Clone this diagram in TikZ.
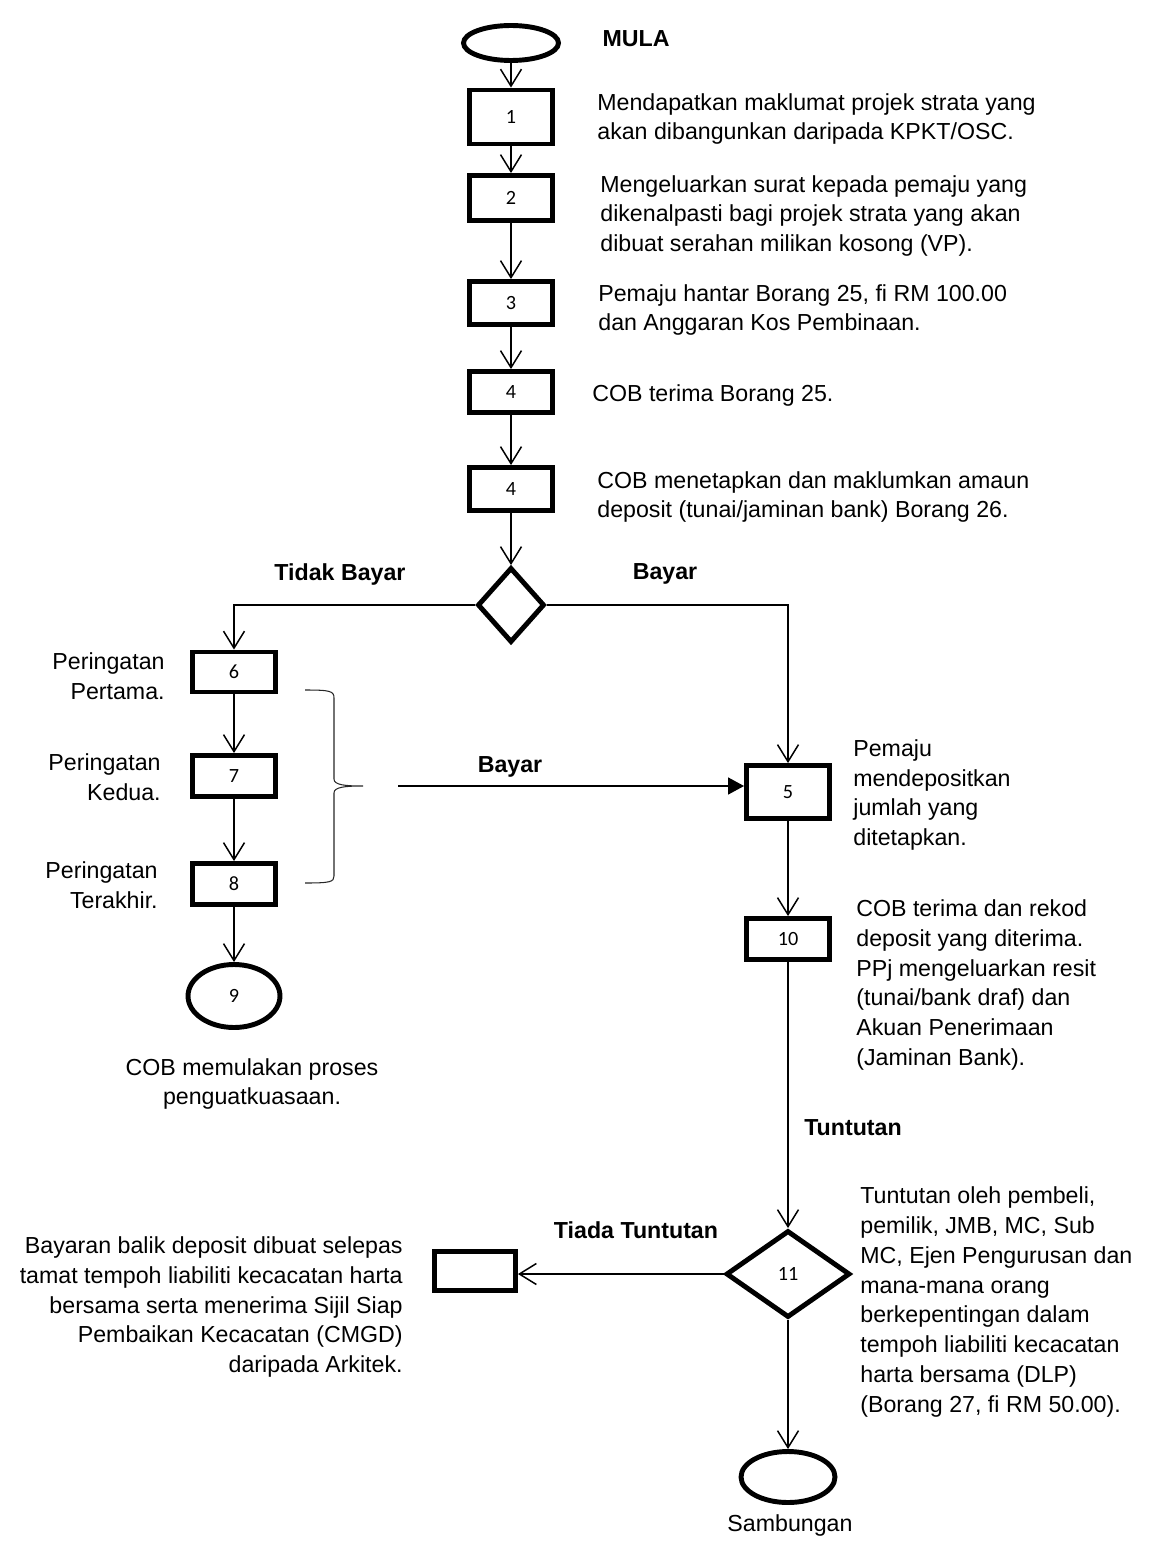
\documentclass[tikz,border=0pt]{standalone}
\usepackage{fontspec}
\setmainfont{Liberation Sans}
\newfontfamily\numfont{Carlito}
\usepackage{tikz}
\usetikzlibrary{arrows.meta,calc,positioning,shapes.geometric}
\tikzset{
  cobbox/.style={draw=black, line width=2.8pt, fill=white, inner sep=0pt, minimum width=1.66cm, minimum height=0.86cm, font=\numfont\fontsize{11.5}{13}\selectfont},
  cobterm/.style={ellipse, draw=black, line width=2.8pt, fill=white, inner sep=0pt, font=\numfont\fontsize{11.5}{13}\selectfont},
  cobdiamond/.style={diamond, draw=black, line width=2.8pt, fill=white, inner sep=0pt, font=\numfont\fontsize{11.5}{13}\selectfont},
  cobarrow/.style={-{Straight Barb[length=0.34cm,width=0.42cm]}, line width=0.85pt, draw=black},
  cobsolidarrow/.style={-{Triangle[length=0.32cm,width=0.34cm]}, line width=0.85pt, draw=black},
  cobbrace/.style={line width=0.6pt, draw=black!85},
  cobtext/.style={align=left, anchor=west, inner sep=0pt, font=\fontsize{13.2}{17}\selectfont},
  cobtextr/.style={align=right, anchor=east, inner sep=0pt, font=\fontsize{13.2}{17}\selectfont},
  cobtextc/.style={align=center, inner sep=0pt, font=\fontsize{13.2}{17}\selectfont},
  coblabel/.style={inner sep=0pt, font=\fontsize{13.2}{17}\selectfont\bfseries}
}
\begin{document}
\begin{tikzpicture}[x=0.02cm,y=-0.02cm]
  \useasboundingbox (0,0) rectangle (1155,1541);

  % main column
  \node[cobterm, minimum width=1.9cm, minimum height=0.7cm] (mula) at (511,43) {};
  \node[coblabel] (lmula) at (636,39) {MULA};
  \node[cobbox, minimum height=1.08cm] (b1) at (511,117) {1};
  \node[cobbox, minimum height=0.9cm] (b2) at (511,198) {2};
  \node[cobbox] (b3) at (511,303) {3};
  \node[cobbox, minimum height=0.82cm] (b4a) at (511,392) {4};
  \node[cobbox] (b4b) at (511,489) {4};
  \node[cobdiamond, minimum width=1.34cm, minimum height=1.5cm] (d1) at (511,605) {};

  \node[cobtext] (t1) at (597,119) {Mendapatkan maklumat projek strata yang\\akan dibangunkan daripada KPKT/OSC.};
  \node[cobtext] (t2) at (600,216) {Mengeluarkan surat kepada pemaju yang\\dikenalpasti bagi projek strata yang akan\\dibuat serahan milikan kosong (VP).};
  \node[cobtext] (t3) at (598,310) {Pemaju hantar Borang 25, fi RM 100.00\\dan Anggaran Kos Pembinaan.};
  \node[cobtext] (t4a) at (592,396) {COB terima Borang 25.};
  \node[cobtext] (t4b) at (597,497) {COB menetapkan dan maklumkan amaun\\deposit (tunai/jaminan bank) Borang 26.};

  \node[coblabel] (ltidak) at (340,574) {Tidak Bayar};
  \node[coblabel] (lbayar) at (665,574) {Bayar};

  % left column (tidak bayar)
  \node[cobbox, minimum height=0.8cm] (b6) at (234,672) {6};
  \node[cobbox, minimum height=0.82cm] (b7) at (234,776) {7};
  \node[cobbox, minimum height=0.82cm] (b8) at (234,884) {8};
  \node[cobterm, minimum width=1.84cm, minimum height=1.26cm] (e9) at (234,996) {9};

  \node[cobtextr] (t6) at (165,676) {Peringatan\\Pertama.};
  \node[cobtextr] (t7) at (161,777) {Peringatan\\Kedua.};
  \node[cobtextr] (t8) at (158,885) {Peringatan\\Terakhir.};
  \node[cobtextc] (t9) at (252,1084) {COB memulakan proses\\penguatkuasaan.};

  % right column (bayar)
  \node[cobbox, minimum height=1.06cm] (b5) at (788,792) {5};
  \node[cobbox, minimum height=0.82cm] (b10) at (788,939) {10};
  \node[cobdiamond, minimum width=2.48cm, minimum height=1.74cm] (d11) at (788,1274) {11};
  \node[cobterm, minimum width=1.88cm, minimum height=1.02cm] (akhir) at (788,1477) {};
  \node[cobbox, minimum width=1.62cm, minimum height=0.78cm] (bret) at (475,1271) {};

  \node[coblabel] (lbayar2) at (510,767) {Bayar};
  \node[cobtext] (t5) at (853,795) {Pemaju\\mendepositkan\\jumlah yang\\ditetapkan.};
  \node[cobtext] (t10) at (856,985) {COB terima dan rekod\\deposit yang diterima.\\PPj mengeluarkan resit\\(tunai/bank draf) dan\\Akuan Penerimaan\\(Jaminan Bank).};
  \node[coblabel] (ltuntut) at (853,1128) {Tuntutan};
  \node[coblabel] (ltiada) at (636,1230) {Tiada Tuntutan};
  \node[cobtext] (t11) at (860,1302) {Tuntutan oleh pembeli,\\pemilik, JMB, MC, Sub\\MC, Ejen Pengurusan dan\\mana-mana orang\\berkepentingan dalam\\tempoh liabiliti kecacatan\\harta bersama (DLP)\\(Borang 27, fi RM 50.00).};
  \node[cobtextr] (tret) at (403,1307) {Bayaran balik deposit dibuat selepas\\tamat tempoh liabiliti kecacatan harta\\bersama serta menerima Sijil Siap\\Pembaikan Kecacatan (CMGD)\\daripada Arkitek.};
  \node[cobtextc] (tsamb) at (790,1525) {Sambungan};

  % brace round 6-8
  \draw[cobbrace] (305,690) .. controls (330,690) and (334,691) .. (334,698) -- (334,779)
    .. controls (334,785) and (345,786) .. (363,786)
    .. controls (345,786) and (334,787) .. (334,793) -- (334,876)
    .. controls (334,882) and (330,883) .. (305,883);
  \coordinate (bayarfrom) at (398,786);

  % arrows
  \draw[cobarrow] (mula) -- (b1);
  \draw[cobarrow] (b1) -- (b2);
  \draw[cobarrow] (b2) -- (b3);
  \draw[cobarrow] (b3) -- (b4a);
  \draw[cobarrow] (b4a) -- (b4b);
  \draw[cobarrow] (b4b) -- (d1);
  \draw[cobarrow] (d1.west) -| (b6.north);
  \draw[cobarrow] (d1.east) -| (b5.north);
  \draw[cobarrow] (b6) -- (b7);
  \draw[cobarrow] (b7) -- (b8);
  \draw[cobarrow] (b8) -- (e9);
  \draw[cobsolidarrow] (bayarfrom) -- (bayarfrom -| b5.west);
  \draw[cobarrow] (b5) -- (b10);
  \draw[cobarrow] (b10) -- (d11);
  \draw[cobarrow] (d11.west) -- (d11.west -| bret.east);
  \draw[cobarrow] (d11) -- (akhir);

\end{tikzpicture}
\end{document}
